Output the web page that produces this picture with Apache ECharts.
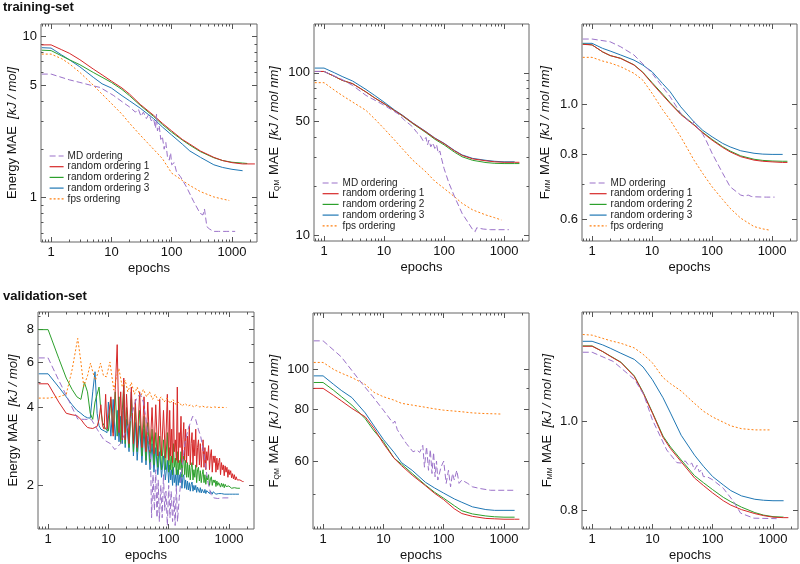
<!DOCTYPE html>
<html><head><meta charset="utf-8">
<script src="https://cdn.jsdelivr.net/npm/echarts@6/dist/echarts.min.js"></script>
<style>html,body{margin:0;padding:0;background:#fff}#c{width:800px;height:564px}</style>
</head><body><div id="c"></div>
<script>
// ---------- data ----------
const seriesNames = ['MD ordering','random ordering 1','random ordering 2','random ordering 3','fps ordering'];
const xTickValues = [1, 10, 100, 1000];
const yTicksTrainE = [1, 5, 10];
const yTicksTrainFQM = [10, 50, 100];
const yTicksTrainFMM = [0.6, 0.8, 1.0];
const yTicksValE = [2, 4, 6, 8];
const yTicksValFQM = [60, 80, 100];
const yTicksValFMM = [0.8, 1.0];

const trEpochs = [0.7,1,1.5,2,3,5,7,10,15,20,30,50,70,100,150,200,300,500,700,1000,1500,1800,2400];
const fpsEpochs = [0.7,1,1.5,2,3,5,7,10,15,20,30,50,70,100,150,200,300,500,700,900];

// training: energy
const trE_R1 = [8.9,8.9,8.3,7.9,7.2,6.3,5.8,5.3,4.8,4.4,3.8,3.25,2.9,2.6,2.3,2.15,1.95,1.78,1.7,1.65,1.62,1.62,1.62];
const trE_R2 = [8.25,8.2,7.6,7.2,6.7,6.0,5.6,5.2,4.7,4.3,3.75,3.2,2.85,2.55,2.28,2.12,1.93,1.77,1.7,1.66,1.64,1.63];
const trE_R3 = [8.55,8.5,7.7,7.2,6.5,5.6,5.1,4.8,4.3,4.0,3.6,3.1,2.75,2.45,2.15,1.95,1.78,1.6,1.54,1.5,1.47];
const trE_fps = [7.8,7.8,7.3,6.8,6.0,5.0,4.4,3.85,3.3,2.9,2.45,2.0,1.75,1.42,1.28,1.19,1.09,1.01,0.98,0.96];
const trE_MD_ep = [0.7,1,2,3,5,6.5,10.7,15,20,25,28,31,34,38,42,46,50,54,56,58,62,66,70,75,80,85,91,96,100,110,120,140,177,230,295,330,350,383,420,490,600,800,1130];
const trE_MD = [5.86,5.86,5.4,5.2,4.95,4.84,4.33,3.95,3.66,3.4,3.55,3.2,3.4,3.1,3.3,3.0,3.1,2.7,3.3,2.6,2.8,2.3,2.4,2.0,2.2,1.8,1.71,1.9,1.6,1.65,1.45,1.35,1.16,0.95,0.80,0.78,0.85,0.66,0.64,0.617,0.617,0.617,0.617];

// training: F_QM
const trQ_R1 = [102,102,95,90,85.7,76.2,70,64.6,58.5,54.7,49,43.2,39.5,36.6,33,31,29.5,28.7,28.3,28.1,28.1,28.1];
const trQ_R2 = [102,102,95,90,85.7,76.2,70,64.6,58.5,54.5,48.7,42.8,39,36,32.4,30.4,28.9,28,27.7,27.6,27.6,27.6];
const trQ_R3 = [107,107,100,95,89,79,72.5,66,59,55,49.2,43.4,39.7,36.8,33.2,31.2,29.7,28.9,28.5,28.3,28.3];
const trQ_fps = [87,87,78,72.6,66,58.7,52,45.3,38.5,34.2,29,24.5,21.5,19.4,17.2,15.7,14.3,13.3,12.8,12.4];
const trQ_MD_ep = [0.7,1,2,3,5,10,17,22,27,30,35,40,45,50,53,56,60,65,70,75,80,85,90,100,120,150,200,250,300,330,350,370,450,600,800,1200];
const trQ_MD = [102,102,91,83.6,72.6,63.2,56,51,48,46.4,43,41,38,40,36,38.5,35,37,34.2,36,32,33,30,25.7,21,17.2,13.6,12.0,10.8,10.5,11.1,10.9,10.9,10.8,10.8,10.8];

// training: F_MM
const trM_R1 = [1.303,1.30,1.26,1.24,1.224,1.189,1.15,1.096,1.04,1.003,0.955,0.911,0.88,0.852,0.825,0.809,0.792,0.780,0.776,0.774,0.772,0.772];
const trM_R2 = [1.305,1.30,1.26,1.24,1.225,1.19,1.152,1.10,1.045,1.006,0.958,0.913,0.882,0.855,0.828,0.812,0.795,0.783,0.779,0.777,0.776,0.776];
const trM_R3 = [1.309,1.309,1.28,1.265,1.243,1.215,1.189,1.154,1.095,1.056,0.988,0.924,0.89,0.865,0.84,0.827,0.813,0.804,0.801,0.800,0.800];
const trM_fps = [1.23,1.23,1.21,1.2,1.18,1.146,1.112,1.049,0.975,0.932,0.865,0.78,0.735,0.693,0.655,0.63,0.603,0.581,0.575,0.572];
const trM_MD_ep = [0.7,1,2,3,5,10,20,30,40,47,50,53,57,62,70,80,100,150,200,300,350,400,450,500,800,1100];
const trM_MD = [1.334,1.334,1.318,1.289,1.243,1.146,1.033,0.96,0.93,0.915,0.925,0.912,0.905,0.89,0.875,0.85,0.804,0.736,0.693,0.668,0.665,0.668,0.664,0.663,0.662,0.662];

// validation: energy (noisy)
const vaE_ep = [0.7,1,1.5,2,2.5,3,3.5,4,4.5,5,5.5,6,6.5,7,7.5,8,8.5,9,9.5,10,
  11,12,13,14,15,16,17,18,19,20,22,24,26,28,30,
  33,36,39,42,45,49,53,57,61,66,71,76,82,88,95,
  100,104,108,112,116,120,124,129,134,139,
  144,149,154,160,166,172,178,184,191,198,
  205,212,220,228,236,244,253,262,271,281,
  291,301,312,323,335,347,359,372,385,399,
  413,428,443,459,475,492,510,528,547,567,
  587,608,630,652,675,699,724,750,777,805,
  834,864,895,927,960,994,1030,1067,1105,1145,
  1186,1228,1272,1318,1365,1414,1465,1518,1572,1628,
  1686,1746];
const vaE_R1 = [4.94,4.94,4.2,3.8,3.75,3.72,3.6,3.45,3.35,3.33,3.32,3.35,3.38,3.6,4.1,3.4,3.3,4.5,3.3,3.25,
  4.4,3.1,4.7,7.0,3.2,4.6,3.0,5.2,3.0,4.5,2.9,4.8,2.9,4.3,2.8,
  4.6,2.8,4.4,2.7,4.2,2.7,4.0,2.65,4.1,2.6,4.3,2.6,3.9,2.55,4.5,
  2.5,3.9,2.6,3.3,2.45,4.2,2.7,3.0,2.5,4.8,
  2.45,3.2,2.8,3.7,2.45,3.0,3.5,2.5,3.3,2.45,
  3.1,2.6,3.4,2.4,2.9,3.2,2.4,3.0,2.6,3.3,
  2.35,2.8,3.0,2.4,2.9,2.35,2.7,3.0,2.35,2.8,
  2.3,2.7,2.5,2.85,2.3,2.6,2.75,2.25,2.6,2.45,
  2.6,2.25,2.55,2.3,2.45,2.55,2.2,2.45,2.3,2.4,
  2.18,2.38,2.25,2.35,2.15,2.3,2.2,2.28,2.14,2.22,
  2.12,2.2,2.1,2.16,2.1,2.12,2.08,2.1,2.08,2.08,
  2.07,2.07];
const vaE_R2 = [8.0,8.0,6.2,5.2,4.7,4.4,4.3,5.0,4.6,3.8,3.6,4.2,4.5,4.8,3.9,3.5,3.4,3.3,3.3,3.25,
  4.3,3.2,4.6,3.1,4.4,2.9,3.9,4.9,2.9,4.0,2.8,4.3,2.7,4.0,2.7,
  3.9,2.6,3.7,2.5,3.5,2.45,3.3,2.4,3.2,2.35,3.1,2.3,3.0,2.3,3.2,
  2.25,2.8,2.3,2.6,2.2,2.9,2.35,2.55,2.2,2.7,
  2.2,2.5,2.3,2.7,2.15,2.45,2.6,2.2,2.5,2.15,
  2.45,2.15,2.4,2.1,2.35,2.45,2.1,2.3,2.15,2.4,
  2.05,2.3,2.35,2.08,2.28,2.05,2.2,2.3,2.05,2.2,
  2.02,2.18,2.1,2.2,2.0,2.12,2.16,2.0,2.1,2.05,
  2.1,1.98,2.08,2.0,2.05,2.07,1.97,2.04,1.98,2.03,
  1.96,2.02,1.98,2.0,1.96,1.99,1.96,1.98,1.95,1.97,
  1.95,1.96,1.95,1.96,1.95,1.95,1.95,1.95];
const vaE_R3 = [5.4,5.4,4.8,4.4,4.1,3.9,3.8,3.7,3.65,3.64,4.6,5.5,3.8,3.4,3.3,3.3,3.25,3.2,3.2,4.2,
  3.1,4.3,3.0,3.9,2.95,3.7,2.9,4.5,2.8,3.6,2.7,4.6,2.6,3.5,2.5,
  3.4,2.45,3.3,2.4,3.1,2.3,2.9,2.25,2.8,2.2,2.7,2.15,2.6,2.1,2.5,
  2.05,2.4,2.1,2.3,2.0,2.35,2.05,2.2,1.98,2.3,
  2.0,2.2,2.05,2.25,1.95,2.15,2.2,1.95,2.1,1.93,
  2.08,1.92,2.05,1.9,2.02,2.06,1.9,2.0,1.92,2.0,
  1.88,1.97,1.99,1.88,1.96,1.87,1.93,1.95,1.87,1.93,
  1.86,1.91,1.89,1.92,1.86,1.9,1.9,1.85,1.89,1.87,
  1.88,1.85,1.87,1.85,1.86,1.87,1.85,1.86,1.85,1.86,
  1.85,1.86,1.85,1.85,1.85,1.85,1.85,1.85,1.85,1.85,
  1.85,1.85,1.85,1.85,1.85,1.85,1.85];
const vaE_fps_ep = [0.7,1,1.5,2,2.5,3.1,3.5,3.9,4.5,5.05,5.5,6.1,6.8,7.4,8.3,9.3,10.6,12.3,13.5,14.9,17,19,21,24,27,30,34,38,43,48,54,60,67,75,84,94,105,118,132,148,166,186,208,233,261,292,327,366,410,460,515,577,646,724,811,908];
const vaE_fps = [4.35,4.35,4.4,4.5,5.6,7.4,6.0,4.83,5.3,5.94,5.5,5.1,5.5,5.94,5.3,5.26,6.0,4.67,5.2,5.67,4.8,5.1,4.6,5.0,4.5,4.8,4.4,4.7,4.4,4.6,4.3,4.5,4.25,4.4,4.2,4.35,4.15,4.3,4.1,4.2,4.05,4.15,4.05,4.1,4.02,4.08,4.02,4.05,4.0,4.03,4.0,4.02,4.0,4.01,4.0,4.0];
const vaE_MD_ep = [0.7,1,1.5,2,3.1,4,5.2,6.5,8.4,10.8,12.8,15.9,19,23.4,27,30,34,38,42,46,50,52,55,58,61,64,67,70,74,78,82,86,90,95,100,105,110,116,122,128,134,140,150,167,185,210,250,280,310,340,390,440,500,560,650,800,1000,1100];
const vaE_MD = [6.22,6.22,5.1,4.46,3.61,3.6,3.6,3.3,3.0,2.9,2.75,2.9,3.2,3.6,4.1,4.4,4.5,4.2,3.6,3.0,2.6,1.5,2.2,1.6,2.3,1.5,2.1,1.45,2.0,1.5,2.2,1.6,1.9,1.4,2.0,1.5,1.9,1.45,1.8,1.4,2.0,1.45,1.8,2.36,2.9,3.3,3.7,3.6,3.3,3.09,2.6,2.1,1.85,1.79,1.78,1.79,1.79,1.79];

// validation: F_QM
const vaQ_R1 = [90,90,86.5,84,80.5,76.8,72,66.2,61,58.5,55.5,52.3,50.2,48.4,46,44.8,44.1,43.6,43.5,43.4,43.4,43.4];
const vaQ_R2 = [93,93,89,86,82,76,71,66.9,61,59,56,52.5,50.5,48.8,46.8,45.5,44.7,44.2,44,43.9,43.9];
const vaQ_R3 = [96.5,96.5,92,89,85.5,78.5,73,67.7,63,59.5,57,53.3,51.7,50.2,48.6,47.7,46.5,45.8,45.6,45.6,45.6];
const vaQ_fps = [104,104,100,98,95.6,92,88,85.9,84.3,82.8,82,81,80.3,79.7,79.3,79,78.5,78.2,78.1,78];
const vaQ_MD_ep = [0.7,1,2,4,6.7,10,14.5,15.5,17,24,31,36,40,45,48,52,56,60,64,68,72,76,80,90,100,110,120,130,140,150,165,180,200,250,300,400,600,1000,1600];
const vaQ_MD = [117.3,117.3,107.3,94.2,85.9,79.7,74.1,75,71.5,66.2,63.2,63.8,63,65.5,58,65,57,64,56,63,55,60,54,58,60,53,57,52,56,54,57,53,54,53,52,51.5,51,51,51];

// validation: F_MM
const vaM_R1 = [1.206,1.206,1.19,1.176,1.158,1.118,1.073,1.02,0.96,0.933,0.903,0.867,0.851,0.835,0.819,0.81,0.801,0.793,0.789,0.786,0.785,0.785];
const vaM_R2 = [1.207,1.207,1.19,1.177,1.159,1.12,1.075,1.022,0.963,0.937,0.907,0.872,0.857,0.842,0.826,0.817,0.806,0.795,0.79,0.787,0.786];
const vaM_R3 = [1.221,1.221,1.21,1.2,1.185,1.167,1.145,1.109,1.06,1.02,0.965,0.918,0.893,0.87,0.852,0.84,0.829,0.822,0.82,0.819,0.819];
const vaM_fps = [1.242,1.24,1.23,1.223,1.215,1.201,1.182,1.157,1.115,1.098,1.078,1.045,1.025,1.01,0.997,0.988,0.981,0.978,0.978,0.978];
const vaM_MD_ep = [0.7,1,2.24,5.1,7.2,10,17.3,25.5,30,35,40,45,50,55,60,65,70,80,100,150,220,290,480,1150];
const vaM_MD = [1.188,1.188,1.161,1.109,1.068,1.003,0.930,0.901,0.90,0.905,0.895,0.90,0.885,0.895,0.88,0.885,0.87,0.87,0.863,0.845,0.818,0.794,0.784,0.783];

// ---------- chart ----------
const FONT = "'Liberation Sans', Arial, Helvetica, sans-serif";
const X_MIN = 0.68, X_MAX = 2600;
const styles = {
  'MD ordering': {color:'#9b72c9', type:[6,3]},
  'random ordering 1': {color:'#d62728', type:'solid'},
  'random ordering 2': {color:'#2ca02c', type:'solid'},
  'random ordering 3': {color:'#1f77b4', type:'solid'},
  'fps ordering': {color:'#ff7f0e', type:[2,2]}
};
const zip = (ep, v) => v.map((y, i) => [ep[i], y]);
function minorTicks(min, max, majors) {
  const out = [];
  for (let n = -2; n <= 4; n++) for (let k = 1; k <= 9; k++) {
    const v = +(k * Math.pow(10, n)).toPrecision(4);
    if (v > min && v < max && majors.indexOf(v) < 0) out.push(v);
  }
  return out;
}
const fmt1 = v => v.toFixed(1);
const fmt0 = v => String(+v.toPrecision(6));

const panels = [
  {rect:{left:41,top:24,width:216,height:218}, ymin:0.53, ymax:12.0, yt:yTicksTrainE, fmt:fmt0,
   yname:'{a|Energy MAE  }{b|[kJ / mol]}', ygap:17, legend:{left:49, top:151, w:14},
   s:[[trEpochs,trE_R3,3],[trEpochs,trE_R2,2],[trEpochs,trE_R1,1],[fpsEpochs,trE_fps,4],[trE_MD_ep,trE_MD,0]]},
  {rect:{left:314,top:24,width:215,height:217}, ymin:9.2, ymax:200, yt:yTicksTrainFQM, fmt:fmt0,
   yname:'{a|F}{s|QM}{a| MAE  }{b|[kJ / mol nm]}', ygap:33, legend:{left:322, top:178, w:16},
   s:[[trEpochs,trQ_R3,3],[trEpochs,trQ_R2,2],[trEpochs,trQ_R1,1],[fpsEpochs,trQ_fps,4],[trQ_MD_ep,trQ_MD,0]]},
  {rect:{left:582,top:24,width:215,height:217}, ymin:0.545, ymax:1.426, yt:yTicksTrainFMM, fmt:fmt1,
   yname:'{a|F}{s|MM}{a| MAE  }{b|[kJ / mol nm]}', ygap:30, legend:{left:589, top:178, w:17},
   s:[[trEpochs,trM_R3,3],[trEpochs,trM_R2,2],[trEpochs,trM_R1,1],[fpsEpochs,trM_fps,4],[trM_MD_ep,trM_MD,0]]},
  {rect:{left:38,top:312,width:216,height:217}, ymin:1.357, ymax:9.36, yt:yTicksValE, fmt:fmt0,
   yname:'{a|Energy MAE  }{b|[kJ / mol]}', ygap:18,
   s:[[vaE_ep,vaE_R3,3],[vaE_ep,vaE_R2,2],[vaE_ep,vaE_R1,1],[vaE_fps_ep,vaE_fps,4],[vaE_MD_ep,vaE_MD,0]]},
  {rect:{left:313,top:313,width:216,height:216}, ymin:41.1, ymax:137, yt:yTicksValFQM, fmt:fmt0,
   yname:'{a|F}{s|QM}{a| MAE  }{b|[kJ / mol nm]}', ygap:32,
   s:[[trEpochs,vaQ_R3,3],[trEpochs,vaQ_R2,2],[trEpochs,vaQ_R1,1],[fpsEpochs,vaQ_fps,4],[vaQ_MD_ep,vaQ_MD,0]]},
  {rect:{left:582,top:312,width:216,height:217}, ymin:0.763, ymax:1.314, yt:yTicksValFMM, fmt:fmt1,
   yname:'{a|F}{s|MM}{a| MAE  }{b|[kJ / mol nm]}', ygap:28,
   s:[[trEpochs,vaM_R3,3],[trEpochs,vaM_R2,2],[trEpochs,vaM_R1,1],[fpsEpochs,vaM_fps,4],[vaM_MD_ep,vaM_MD,0]]}
];

const grid = [], xAxis = [], yAxis = [], series = [], legend = [];
const TICK = '#555';
const xMinor = minorTicks(X_MIN, X_MAX, xTickValues);
panels.forEach((p, i) => {
  grid.push(Object.assign({show:true, borderColor:'#666', borderWidth:1, backgroundColor:'transparent', outerBoundsMode:'none'}, p.rect));
  const xBase = {gridIndex:i, type:'log', logBase:10, min:X_MIN, max:X_MAX, axisLine:{show:false}, splitLine:{show:false}, minorTick:{show:false}};
  const mainX = xAxis.length;
  xAxis.push(Object.assign({}, xBase, {position:'bottom',
    axisTick:{show:true, inside:true, length:5, customValues:xTickValues, lineStyle:{color:TICK}},
    axisLabel:{show:true, customValues:xTickValues, margin:4, fontSize:13, color:'#111', fontFamily:FONT, formatter:fmt0},
    name:'epochs', nameLocation:'middle', nameGap:20, nameTextStyle:{fontSize:13, color:'#111', fontFamily:FONT}}));
  xAxis.push(Object.assign({}, xBase, {position:'bottom', axisLabel:{show:false},
    axisTick:{show:true, inside:true, length:2.5, customValues:xMinor, lineStyle:{color:TICK}}}));
  xAxis.push(Object.assign({}, xBase, {position:'top', axisLabel:{show:false},
    axisTick:{show:true, inside:true, length:5, customValues:xTickValues, lineStyle:{color:TICK}}}));
  xAxis.push(Object.assign({}, xBase, {position:'top', axisLabel:{show:false},
    axisTick:{show:true, inside:true, length:2.5, customValues:xMinor, lineStyle:{color:TICK}}}));
  const yMinor = minorTicks(p.ymin, p.ymax, p.yt);
  const yBase = {gridIndex:i, type:'log', logBase:10, min:p.ymin, max:p.ymax, axisLine:{show:false}, splitLine:{show:false}, minorTick:{show:false}};
  const mainY = yAxis.length;
  yAxis.push(Object.assign({}, yBase, {position:'left',
    axisTick:{show:true, inside:true, length:5, customValues:p.yt, lineStyle:{color:TICK}},
    axisLabel:{show:true, customValues:p.yt, margin:4, fontSize:13, color:'#111', fontFamily:FONT, formatter:p.fmt},
    name:p.yname, nameLocation:'middle', nameGap:p.ygap, nameRotate:90,
    nameTextStyle:{fontFamily:FONT, color:'#111', rich:{
      a:{fontSize:13, fontFamily:FONT, color:'#111'},
      b:{fontSize:13, fontFamily:FONT, color:'#111', fontStyle:'italic'},
      s:{fontSize:7, fontFamily:FONT, color:'#111', verticalAlign:'bottom', padding:[5,1,0,0]}}}}));
  yAxis.push(Object.assign({}, yBase, {position:'left', axisLabel:{show:false},
    axisTick:{show:true, inside:true, length:2.5, customValues:yMinor, lineStyle:{color:TICK}}}));
  yAxis.push(Object.assign({}, yBase, {position:'right', axisLabel:{show:false},
    axisTick:{show:true, inside:true, length:5, customValues:p.yt, lineStyle:{color:TICK}}}));
  yAxis.push(Object.assign({}, yBase, {position:'right', axisLabel:{show:false},
    axisTick:{show:true, inside:true, length:2.5, customValues:yMinor, lineStyle:{color:TICK}}}));
  p.s.forEach(([ep, vals, k]) => {
    const name = seriesNames[k];
    const st = styles[name];
    series.push({name, type:'line', xAxisIndex:mainX, yAxisIndex:mainY, data:zip(ep, vals),
      showSymbol:false, symbol:'none', clip:true, animation:false,
      itemStyle:{color:st.color}, lineStyle:{color:st.color, width:1, type:st.type}});
  });
  if (p.legend) {
    legend.push({left:p.legend.left, top:p.legend.top, orient:'vertical', padding:0,
      itemWidth:p.legend.w, itemHeight:10, itemGap:0.7, selectedMode:false,
      itemStyle:{opacity:0, borderWidth:0}, lineStyle:{opacity:1, width:1.2},
      textStyle:{fontSize:10, lineHeight:10, color:'#222', fontFamily:FONT, padding:[0,0,0,-1]},
      data:seriesNames.slice()});
  }
});

const chart = echarts.init(document.getElementById('c'), null, {renderer:'canvas'});
chart.setOption({
  animation:false,
  backgroundColor:'#fff',
  title:[
    {text:'training-set', left:3, top:1, padding:0, textStyle:{fontSize:13, fontWeight:'bold', color:'#111', fontFamily:FONT}},
    {text:'validation-set', left:3, top:290, padding:0, textStyle:{fontSize:13, fontWeight:'bold', color:'#111', fontFamily:FONT}}
  ],
  legend, grid, xAxis, yAxis, series
});
</script>
</body></html>
